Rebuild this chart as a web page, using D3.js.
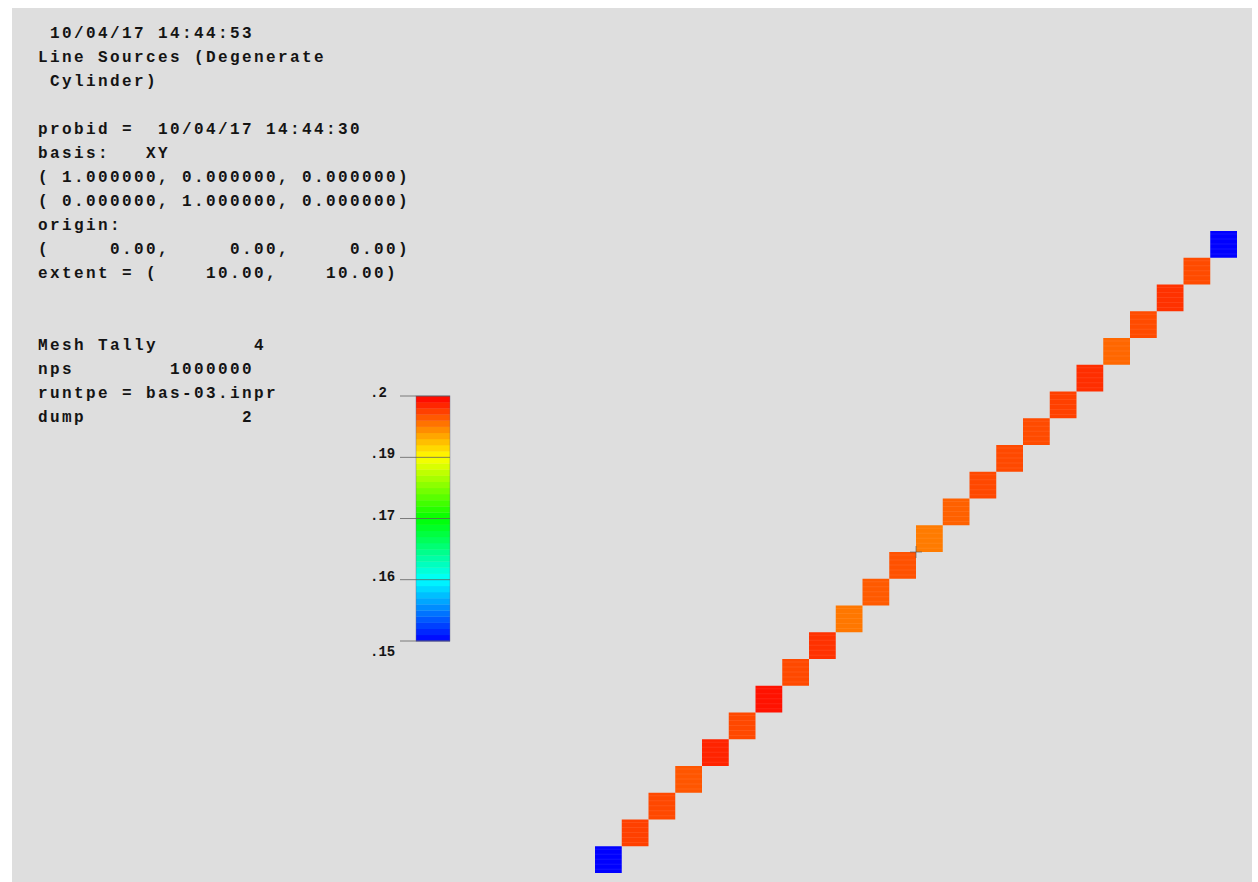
<!DOCTYPE html>
<html>
<head>
<meta charset="utf-8">
<script src="https://cdn.jsdelivr.net/npm/d3@7"></script>
<style>
  html, body { margin: 0; padding: 0; background: #fff; }
  svg { display: block; }
  .info { font-family: "Courier New", "Liberation Mono", monospace; font-weight: bold; fill: #141414; white-space: pre; }
</style>
</head>
<body>
<div id="chart"></div>
<script>
// header / info text, one entry per line (null = blank line)
const infoLines = [
  ' 10/04/17 14:44:53',
  'Line Sources (Degenerate',
  ' Cylinder)',
  null,
  'probid =  10/04/17 14:44:30',
  'basis:   XY',
  '( 1.000000, 0.000000, 0.000000)',
  '( 0.000000, 1.000000, 0.000000)',
  'origin:',
  '(     0.00,     0.00,     0.00)',
  'extent = (    10.00,    10.00)',
  null,
  null,
  'Mesh Tally        4',
  'nps        1000000',
  'runtpe = bas-03.inpr',
  'dump             2'
];

// mesh cells along the diagonal (lower-left corner in plot units) and tally values
const cellX = [-12, -11, -10, -9, -8, -7, -6, -5, -4, -3, -2, -1, 0, 1, 2, 3, 4, 5, 6, 7, 8, 9, 10, 11];
const cellY = [-12, -11, -10, -9, -8, -7, -6, -5, -4, -3, -2, -1, 0, 1, 2, 3, 4, 5, 6, 7, 8, 9, 10, 11];
const cellValue = [0.15, 0.1964, 0.1960, 0.1952, 0.1980, 0.1960, 0.1990, 0.1959, 0.1972, 0.1934, 0.1950, 0.1955,
                   0.1932, 0.1946, 0.1960, 0.1959, 0.1958, 0.1964, 0.1974, 0.1943, 0.1958, 0.1972, 0.1958, 0.15];

// colour bar
const barMin = 0.15;
const barMax = 0.2;
const barLevels = 40;
const tickValues = [0.15, 0.1612, 0.1732, 0.1861, 0.2];
const tickLabels = ['.15', '.16', '.17', '.19', '.2'];

const width = 1258;
const height = 882;

const svg = d3.select('#chart')
    .append('svg')
    .attr('width', width)
    .attr('height', height);

// gray plot background
svg.append('rect')
    .attr('x', 12).attr('y', 8)
    .attr('width', 1240).attr('height', height - 8)
    .attr('fill', '#dedede');

// rainbow map: blue at the bottom of the (log) range, red at the top
const t = d3.scaleLog().domain([barMin, barMax]).range([0, 1]).clamp(true);
const colour = v => d3.hsl(240 * (1 - t(v)), 1, 0.5).toString();

// info text
svg.append('g')
    .selectAll('text')
    .data(infoLines.map((s, i) => ({ s, i })).filter(d => d.s !== null))
    .enter().append('text')
    .attr('class', 'info')
    .attr('x', 38)
    .attr('y', d => 38 + d.i * 24)
    .attr('font-size', 16)
    .attr('letter-spacing', 2.4)
    .text(d => d.s);

// colour bar
const barY = d3.scaleLog().domain([barMin, barMax]).range([641, 396]);
const bar = svg.append('g');
const levelEdges = d3.range(barLevels + 1).map(k => barMin * Math.pow(barMax / barMin, k / barLevels));

bar.selectAll('rect')
    .data(d3.range(barLevels))
    .enter().append('rect')
    .attr('x', 416)
    .attr('width', 34)
    .attr('y', k => barY(levelEdges[k + 1]))
    .attr('height', k => barY(levelEdges[k]) - barY(levelEdges[k + 1]) + 0.3)
    .attr('fill', k => colour(Math.sqrt(levelEdges[k] * levelEdges[k + 1])));

bar.append('rect')
    .attr('x', 416).attr('y', barY(barMax))
    .attr('width', 34).attr('height', barY(barMin) - barY(barMax))
    .attr('fill', 'none')
    .attr('stroke', '#6a6a8a')
    .attr('stroke-opacity', 0.5)
    .attr('stroke-width', 0.8);

bar.selectAll('line')
    .data(tickValues)
    .enter().append('line')
    .attr('x1', 400).attr('x2', 450)
    .attr('y1', d => barY(d)).attr('y2', d => barY(d))
    .attr('stroke', '#5a5a5a')
    .attr('stroke-opacity', 0.75)
    .attr('stroke-width', 1);

bar.selectAll('text')
    .data(tickValues)
    .enter().append('text')
    .attr('class', 'info')
    .attr('x', 370)
    .attr('y', (d, i) => i === 0 ? barY(d) + 15 : barY(d) + 1)
    .attr('font-size', 14)
    .text((d, i) => tickLabels[i]);

// mesh cells
const x = d3.scaleLinear().domain([-12, 12]).range([595, 1237]);
const y = d3.scaleLinear().domain([-12, 12]).range([873, 231]);

const cells = cellX.map((cx, i) => ({ x: cx, y: cellY[i], v: cellValue[i] }));

const cell = svg.append('g')
    .selectAll('g')
    .data(cells)
    .enter().append('g');

cell.append('rect')
    .attr('x', d => x(d.x))
    .attr('y', d => y(d.y + 1))
    .attr('width', d => x(d.x + 1) - x(d.x))
    .attr('height', d => y(d.y) - y(d.y + 1))
    .attr('fill', d => colour(d.v));

// faint horizontal banding seen in the cells
cell.each(function(d) {
    const g = d3.select(this);
    const top = y(d.y + 1), bottom = y(d.y);
    for (let yy = top + 3; yy < bottom - 1; yy += 5) {
        g.append('line')
            .attr('x1', x(d.x)).attr('x2', x(d.x + 1))
            .attr('y1', yy).attr('y2', yy)
            .attr('stroke', '#fff')
            .attr('stroke-opacity', 0.08)
            .attr('stroke-width', 1);
    }
});

// origin marker
const origin = svg.append('g')
    .attr('stroke', '#555')
    .attr('stroke-opacity', 0.6)
    .attr('stroke-width', 1);
origin.append('line')
    .attr('x1', x(0) - 6).attr('x2', x(0) + 6)
    .attr('y1', y(0)).attr('y2', y(0));
origin.append('line')
    .attr('x1', x(0)).attr('x2', x(0))
    .attr('y1', y(0) - 6).attr('y2', y(0) + 6);
</script>
</body>
</html>
